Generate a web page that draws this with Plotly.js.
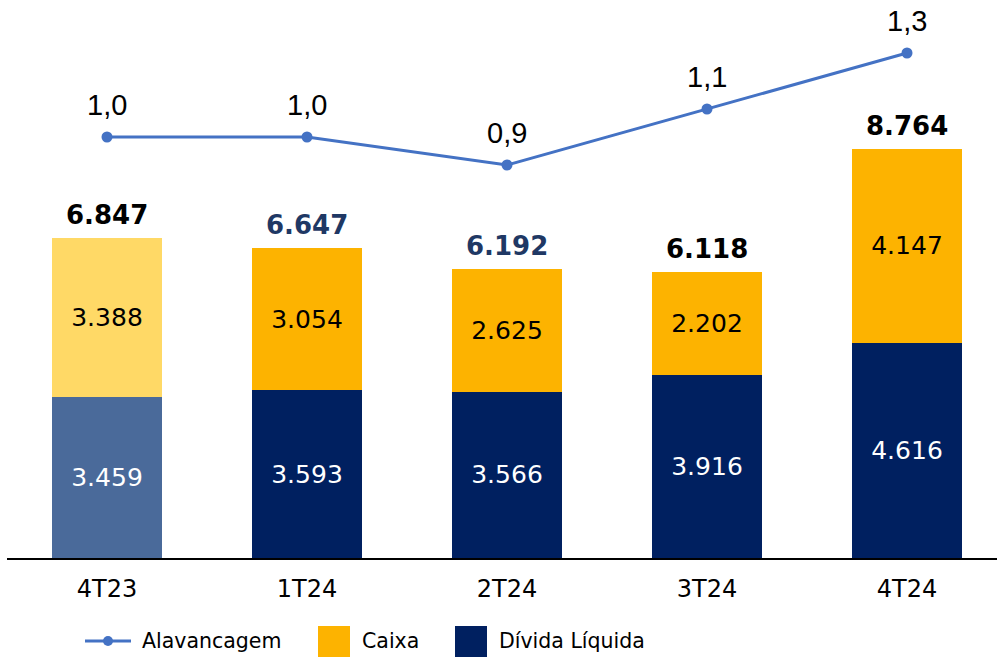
<!DOCTYPE html>
<html>
<head>
<meta charset="utf-8">
<script src="https://cdn.plot.ly/plotly-3.0.1.min.js"></script>
<style>
  html, body { margin: 0; padding: 0; background: #fff; }
  #chart { width: 997px; height: 658px; }
</style>
</head>
<body>
<div id="chart"></div>
<script>
// data
const quarters = ["4T23", "1T24", "2T24", "3T24", "4T24"];
const dividaLiquida = [3459, 3593, 3566, 3916, 4616];
const caixa = [3388, 3054, 2625, 2202, 4147];
const totals = [6847, 6647, 6192, 6118, 8764];
const alavancagem = [1.0, 1.0, 0.9, 1.1, 1.3];

// styling
const navy = "#002060";
const orange = "#FDB300";
const line = "#4472C4";
const dividaColors = ["#4A6A9A", navy, navy, navy, navy];
const caixaColors = ["#FFD966", orange, orange, orange, orange];
const totalColors = ["#000000", "#1F3864", "#1F3864", "#000000", "#000000"];

const W = 997, H = 658;
const m = { l: 7, r: 0, t: 10, b: 100 };
const plotW = W - m.l - m.r, plotH = H - m.t - m.b;
const px = x => (x - m.l) / plotW;
const py = y => (H - m.b - y) / plotH;

const traceDivida = {
    x: quarters, y: dividaLiquida, type: "bar", name: "Dívida Líquida",
    marker: { color: dividaColors },
    texttemplate: "%{y:,}", textposition: "inside", insidetextanchor: "middle",
    textfont: { family: "DejaVu Sans", size: 25, color: "#ffffff" },
    showlegend: false, hoverinfo: "skip"
};

const traceCaixa = {
    x: quarters, y: caixa, type: "bar", name: "Caixa",
    marker: { color: caixaColors },
    texttemplate: "%{y:,}", textposition: "inside", insidetextanchor: "middle",
    textfont: { family: "DejaVu Sans", size: 25, color: "#000000" },
    showlegend: false, hoverinfo: "skip"
};

const traceAlav = {
    x: quarters, y: alavancagem, type: "scatter", mode: "lines+markers",
    name: "Alavancagem", yaxis: "y2",
    line: { color: line, width: 3 },
    marker: { color: line, size: 11 },
    showlegend: false, hoverinfo: "skip"
};

const annotations = [];
quarters.forEach((q, i) => {
    annotations.push({
        x: q, y: totals[i], xref: "x", yref: "y",
        text: "<b>" + totals[i].toLocaleString("pt-BR") + "</b>",
        showarrow: false, yanchor: "bottom", yshift: 6,
        font: { family: "DejaVu Sans", size: 26, color: totalColors[i] }
    });
    annotations.push({
        x: q, y: alavancagem[i], xref: "x", yref: "y2",
        text: alavancagem[i].toFixed(1).replace(".", ","),
        showarrow: false, yanchor: "bottom", yshift: 14,
        font: { family: "Liberation Sans", size: 29, color: "#000000" }
    });
});

// custom legend
const legendFont = { family: "DejaVu Sans", size: 20.5, color: "#000000" };
const legendY = py(641);
const shapes = [
    { type: "line", xref: "paper", yref: "paper", x0: px(85), x1: px(131), y0: legendY, y1: legendY,
      line: { color: line, width: 3 } },
    { type: "circle", xref: "paper", yref: "paper", x0: px(103), x1: px(113), y0: py(646), y1: py(636),
      fillcolor: line, line: { width: 0 } },
    { type: "rect", xref: "paper", yref: "paper", x0: px(318), x1: px(350), y0: py(657), y1: py(626),
      fillcolor: orange, line: { width: 0 } },
    { type: "rect", xref: "paper", yref: "paper", x0: px(455), x1: px(487), y0: py(657), y1: py(626),
      fillcolor: navy, line: { width: 0 } }
];
[["Alavancagem", 140], ["Caixa", 360], ["Dívida Líquida", 497]].forEach(([t, x]) => {
    annotations.push({ text: t, xref: "paper", yref: "paper", x: px(x), y: legendY,
        xanchor: "left", yanchor: "middle", showarrow: false, font: legendFont });
});

const layout = {
    width: W, height: H,
    margin: m,
    barmode: "stack",
    bargap: 0.45,
    separators: ",.",
    showlegend: false,
    paper_bgcolor: "#ffffff",
    plot_bgcolor: "#ffffff",
    xaxis: {
        range: [-0.5, 4.45], showgrid: false, zeroline: false,
        showline: true, linecolor: "#000000", linewidth: 2,
        ticks: "", ticklabelstandoff: 8,
        tickfont: { family: "DejaVu Sans", size: 24, color: "#000000" }
    },
    yaxis: {
        range: [0, plotH / (409 / 8764)], visible: false, showgrid: false, zeroline: false
    },
    yaxis2: {
        overlaying: "y", side: "right",
        range: [1.0 - (H - m.b - 137) / 280, 1.0 + (137 - m.t) / 280],
        visible: false, showgrid: false, zeroline: false
    },
    annotations: annotations,
    shapes: shapes
};

Plotly.newPlot("chart", [traceDivida, traceCaixa, traceAlav], layout, { displayModeBar: false, staticPlot: true });
</script>
</body>
</html>
